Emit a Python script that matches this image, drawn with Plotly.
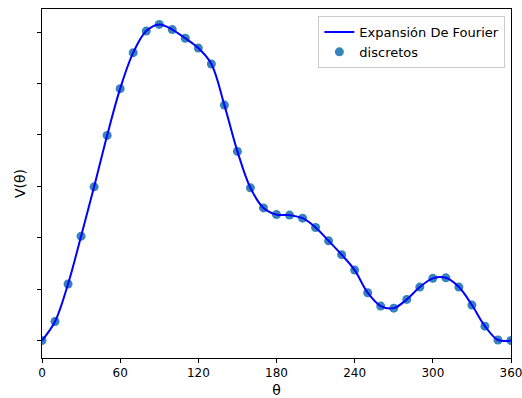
import plotly.graph_objects as go

theta = list(range(0, 361, 10))
v = [0.0, 0.37, 1.10, 2.03, 2.99, 3.99, 4.90, 5.60, 6.02, 6.15,
     6.05, 5.88, 5.69, 5.38, 4.58, 3.68, 2.97, 2.58, 2.45, 2.44,
     2.38, 2.20, 1.94, 1.67, 1.37, 0.93, 0.67, 0.63, 0.80, 1.04,
     1.21, 1.22, 1.04, 0.69, 0.28, 0.01, 0.0]
xticks = [0, 60, 120, 180, 240, 300, 360]
yticks = [0, 1, 2, 3, 4, 5, 6]

fig = go.Figure()
fig.add_trace(go.Scatter(
    x=theta, y=v, mode="markers", name="discretos",
    marker=dict(color="#1f77b4", size=9, opacity=0.9, line=dict(width=0)),
))
fig.add_trace(go.Scatter(
    x=theta, y=v, mode="lines", name="Expansión De Fourier",
    line=dict(color="blue", width=2, shape="spline", smoothing=1.0),
))

axis_common = dict(
    showline=True, linecolor="black", linewidth=1, mirror=True,
    ticks="outside", ticklen=4, tickcolor="black", showgrid=False,
    zeroline=False, automargin=False,
)
fig.update_layout(
    width=522, height=398,
    margin=dict(l=42, r=10.5, t=9, b=40.3),
    plot_bgcolor="white", paper_bgcolor="white",
    font=dict(family="DejaVu Sans", size=12, color="black"),
    showlegend=True,
    legend=dict(
        traceorder="reversed",
        x=0.988, y=0.98, xanchor="right", yanchor="top",
        bgcolor="white", bordercolor="#cccccc", borderwidth=1,
        font=dict(size=13), itemwidth=30, tracegroupgap=0,
    ),
    xaxis=dict(range=[0, 360], tickvals=xticks, ticklabeloverflow="allow",
               title=dict(text="θ", standoff=5), **axis_common),
    yaxis=dict(range=[-0.34, 6.45], tickvals=yticks, showticklabels=False,
               title=dict(text="V(θ)", standoff=8), **axis_common),
)
fig.write_html("out.html")
